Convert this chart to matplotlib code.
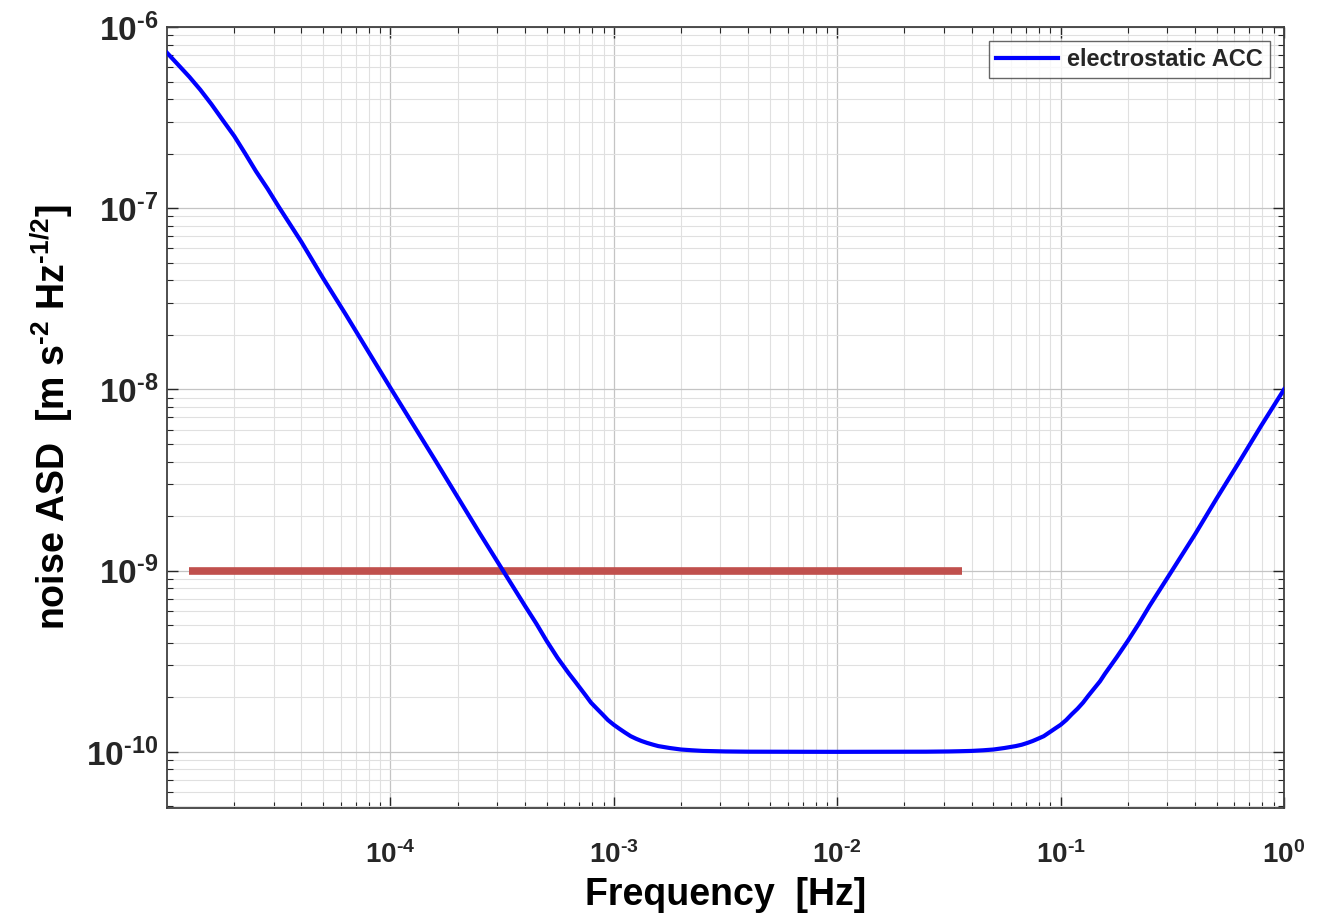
import numpy as np
import matplotlib
matplotlib.use("Agg")
import matplotlib.pyplot as plt
from matplotlib.ticker import LogLocator, FuncFormatter, NullFormatter

plt.rcParams["font.family"] = ["Liberation Sans", "DejaVu Sans"]
plt.rcParams["font.weight"] = "bold"
plt.rcParams["mathtext.fontset"] = "custom"
plt.rcParams["mathtext.rm"] = "Liberation Sans:bold"
plt.rcParams["mathtext.bf"] = "Liberation Sans:bold"
plt.rcParams["mathtext.default"] = "bf"

# electrostatic accelerometer noise ASD
freq = [1.0e-5, 1.12e-5, 1.26e-5, 1.41e-5, 1.58e-5, 1.78e-5, 2.0e-5, 2.24e-5,
        2.5e-5, 2.82e-5, 3.16e-5, 4.0e-5, 5.0e-5, 6.3e-5, 1.0e-4, 1.58e-4,
        2.5e-4, 3.16e-4, 4.0e-4, 4.5e-4, 5.0e-4, 5.6e-4, 6.3e-4, 6.7e-4,
        7.1e-4, 7.5e-4, 7.9e-4, 8.4e-4, 8.9e-4, 9.4e-4, 1.0e-3, 1.06e-3,
        1.12e-3, 1.19e-3, 1.26e-3, 1.33e-3, 1.41e-3, 1.5e-3, 1.58e-3, 1.78e-3,
        2.0e-3, 2.24e-3, 2.5e-3, 3.16e-3, 4.0e-3, 1.0e-2, 2.5e-2, 3.16e-2,
        3.55e-2, 4.0e-2, 4.5e-2, 5.0e-2, 5.6e-2, 6.3e-2, 6.7e-2, 7.1e-2,
        7.5e-2, 7.9e-2, 8.4e-2, 8.9e-2, 9.4e-2, 0.1, 0.106, 0.112, 0.119,
        0.126, 0.133, 0.141, 0.15, 0.158, 0.178, 0.2, 0.224, 0.25, 0.316,
        0.4, 0.5, 0.63, 0.79, 1.0]
asd = [7.2e-7, 6.2e-7, 5.3e-7, 4.5e-7, 3.75e-7, 3.05e-7, 2.5e-7, 2.0e-7,
       1.6e-7, 1.28e-7, 1.02e-7, 6.5e-8, 4.1e-8, 2.6e-8, 1.02e-8, 4.1e-9,
       1.62e-9, 1.02e-9, 6.4e-10, 5.1e-10, 4.1e-10, 3.3e-10, 2.7e-10, 2.45e-10,
       2.23e-10, 2.04e-10, 1.87e-10, 1.73e-10, 1.61e-10, 1.5e-10, 1.41e-10, 1.34e-10,
       1.28e-10, 1.22e-10, 1.18e-10, 1.148e-10, 1.12e-10, 1.095e-10, 1.076e-10, 1.05e-10,
       1.03e-10, 1.02e-10, 1.012e-10, 1.005e-10, 1.002e-10, 1.0e-10, 1.002e-10, 1.005e-10,
       1.008e-10, 1.012e-10, 1.02e-10, 1.03e-10, 1.05e-10, 1.076e-10, 1.095e-10, 1.12e-10,
       1.148e-10, 1.18e-10, 1.22e-10, 1.28e-10, 1.34e-10, 1.41e-10, 1.5e-10, 1.61e-10, 1.73e-10,
       1.87e-10, 2.04e-10, 2.23e-10, 2.45e-10, 2.70e-10, 3.32e-10, 4.10e-10, 5.1e-10, 6.39e-10, 1.005e-9,
       1.59e-9, 2.51e-9, 3.98e-9, 6.3e-9, 1.0e-8]

# requirement level (red bar)
req_freq = [1.26e-5, 3.6e-2]
req_asd = [1e-9, 1e-9]

fig = plt.figure(figsize=(13.37, 9.23), dpi=100)
ax = fig.add_axes([0.1249, 0.1246, 0.8355, 0.8462])

ax.loglog(freq, asd, color="#0000ff", linewidth=3, label="electrostatic ACC", zorder=3)
ax.loglog(req_freq, req_asd, color="#c0504d", linewidth=5.5, solid_capstyle="butt", zorder=2)

ax.set_xlim(1e-5, 1)
ax.set_ylim(4.9e-11, 1e-6)

ax.set_xticks([1e-4, 1e-3, 1e-2, 1e-1, 1e0])
ax.set_yticks([1e-10, 1e-9, 1e-8, 1e-7, 1e-6])
ax.xaxis.set_minor_locator(LogLocator(base=10, subs=np.arange(2, 10), numticks=20))
ax.yaxis.set_minor_locator(LogLocator(base=10, subs=np.arange(2, 10), numticks=20))
ax.xaxis.set_minor_formatter(NullFormatter())
ax.yaxis.set_minor_formatter(NullFormatter())


def exp_label(v, _):
    e = int(round(np.log10(v)))
    if e < 0:
        return r"$\mathbf{10^{\text{-}%d}}$" % (-e)
    return r"$\mathbf{10^{%d}}$" % e


fmt = FuncFormatter(exp_label)
ax.xaxis.set_major_formatter(fmt)
ax.yaxis.set_major_formatter(fmt)

ax.grid(True, which="major", color="#c4c4c4", linewidth=0.9)
ax.grid(True, which="minor", color="#e0e0e0", linewidth=0.8)
ax.set_axisbelow(True)

ax.tick_params(which="both", direction="in", top=True, right=True, colors="#262626")
ax.tick_params(which="major", length=8, width=1.0, pad=8)
ax.tick_params(axis="x", which="major", labelsize=20, pad=24)
ax.tick_params(axis="y", which="major", labelsize=24, pad=6)
ax.tick_params(which="minor", length=4, width=0.8)
for s in ax.spines.values():
    s.set_color("#404040")
    s.set_linewidth(1.3)

ax.set_xlabel("Frequency  [Hz]", fontsize=27, fontweight="bold", labelpad=6)
ax.set_ylabel(r"noise ASD  [m s$^{\text{-}2}$ Hz$^{\text{-}1/2}$]", fontsize=27,
              fontweight="bold", labelpad=8)

leg = ax.legend(loc="upper right", fontsize=17, frameon=True, fancybox=False,
                handlelength=2.6, borderaxespad=0.6, borderpad=0.3, handletextpad=0.4)
leg.get_frame().set_edgecolor("#404040")
leg.get_frame().set_linewidth(1.0)
for t in leg.get_texts():
    t.set_fontweight("bold")
    t.set_color("#262626")

fig.savefig("out.png", dpi=100)
